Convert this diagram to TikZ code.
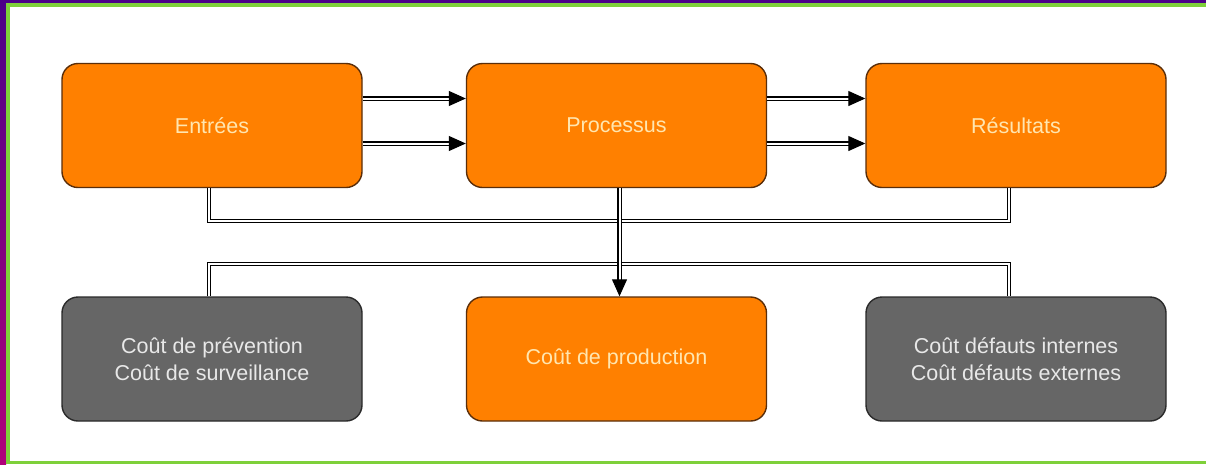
\documentclass[tikz,border=0pt]{standalone}
\usepackage{fontspec}
\setmainfont{Liberation Sans}
\usetikzlibrary{arrows.meta}
\definecolor{boxorange}{HTML}{FF8000}
\definecolor{boxedge}{HTML}{5A2E0A}
\definecolor{boxtext}{HTML}{FFE6B0}
\definecolor{boxgrey}{HTML}{666666}
\definecolor{greyedge}{HTML}{2A2A2A}
\definecolor{greytext}{HTML}{E8E8E8}
\definecolor{framepurple}{HTML}{4B0088}
\definecolor{framemagenta}{HTML}{B0007A}
\definecolor{framegreen}{HTML}{7ED03A}
\begin{document}
\begin{tikzpicture}[x=1pt,y=-1pt,
  box/.style={draw=boxedge,line width=1.4pt,fill=boxorange,rounded corners=16pt,
    minimum width=300pt,minimum height=124pt,inner sep=0pt,align=center,
    text=boxtext,font=\fontsize{21.5}{27}\selectfont},
  greybox/.style={box,draw=greyedge,fill=boxgrey,text=greytext},
  dbl/.style={draw=black,double=white,double distance=2pt,line width=1.1pt},
  tip/.style={-{Triangle[length=17pt,width=15pt]}}]
\useasboundingbox (0,0) rectangle (1206,464);
\fill[white] (0,0) rectangle (1206,464);
% frame
\fill[framepurple] (0,0) rectangle (1206,3);
\shade[top color=framepurple,bottom color=framemagenta] (0,0) rectangle (6,464);
\fill[framegreen] (6,3) rectangle (1206,7);
\fill[framegreen] (6,3) rectangle (10,464);
\fill[framegreen] (6,461) rectangle (1206,464);
\node[box] (ent) at (212,125.5) {Entrées};
\node[box] (proc) at (616.5,125.5) {Processus};
\node[box] (res) at (1016,125.5) {Résultats};
\node[greybox] (prev) at (212,359) {Coût de prévention\\Coût de surveillance};
\node[box] (prod) at (616.5,359) {Coût de production};
\node[greybox] (def) at (1016,359) {Coût défauts internes\\Coût défauts externes};
\draw[dbl,tip] ([yshift=27pt]ent.east) -- ([yshift=27pt]proc.west);
\draw[dbl,tip] ([yshift=-18pt]ent.east) -- ([yshift=-18pt]proc.west);
\draw[dbl,tip] ([yshift=27pt]proc.east) -- ([yshift=27pt]res.west);
\draw[dbl,tip] ([yshift=-18pt]proc.east) -- ([yshift=-18pt]res.west);
\draw[dbl] ([xshift=-3pt]ent.south) -- ++(0,33) -| ([xshift=-7pt]res.south);
\draw[dbl] ([xshift=-3pt]prev.north) -- ++(0,-32.5) -| ([xshift=-7pt]def.north);
\draw[dbl,tip] ([xshift=3pt]proc.south) -- ([xshift=3pt]prod.north);
\end{tikzpicture}
\end{document}
